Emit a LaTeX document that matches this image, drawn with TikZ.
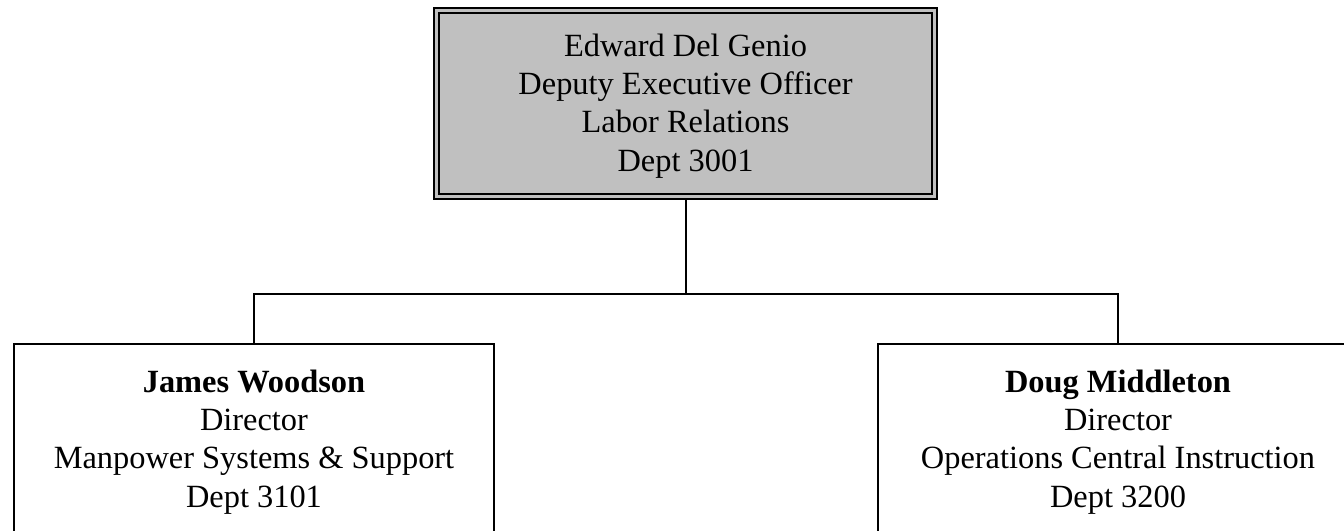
\documentclass[tikz,border=0pt]{standalone}
\usepackage{fontspec}
\setmainfont{Liberation Serif}
\usetikzlibrary{backgrounds}
\definecolor{boxgray}{HTML}{C0C0C0}
\begin{document}
\begin{tikzpicture}[x=0.75pt,y=-0.75pt,
  topbox/.style={draw=black, line width=1.5pt, double=boxgray, double distance=2.25pt,
    fill=boxgray, minimum width=373.5pt, minimum height=139.5pt, inner sep=0pt},
  subbox/.style={draw=black, line width=1.5pt, fill=white,
    minimum width=360pt, minimum height=157.5pt, inner sep=0pt, anchor=north},
  toptext/.style={align=center, inner sep=0pt, font=\fontsize{24.3}{28.7}\selectfont},
  subtext/.style={align=center, inner sep=0pt, font=\fontsize{24.3}{28.7}\selectfont},
  link/.style={draw=black, line width=1.5pt}]
\useasboundingbox (0,0) rectangle (1344,531);
\node[topbox] (top) at (685.5,103.5) {};
\node[toptext] (toptxt) at (685.5,106) {Edward Del Genio\\Deputy Executive Officer\\Labor Relations\\Dept 3001};
\node[subbox] (left) at (254,343) {};
\node[subbox] (right) at (1118,343) {};
\node[subtext] (lefttxt) at (254,442) {\textbf{James Woodson}\\Director\\Manpower Systems \& Support\\Dept 3101};
\node[subtext] (righttxt) at (1118,442) {\textbf{Doug Middleton}\\Director\\Operations Central Instruction\\Dept 3200};
\coordinate (mid) at (685.5,294);
\begin{scope}[on background layer]
\draw[link] (top.south) -- (mid);
\draw[link] (left.north) |- (mid) -| (right.north);
\end{scope}
\end{tikzpicture}
\end{document}
